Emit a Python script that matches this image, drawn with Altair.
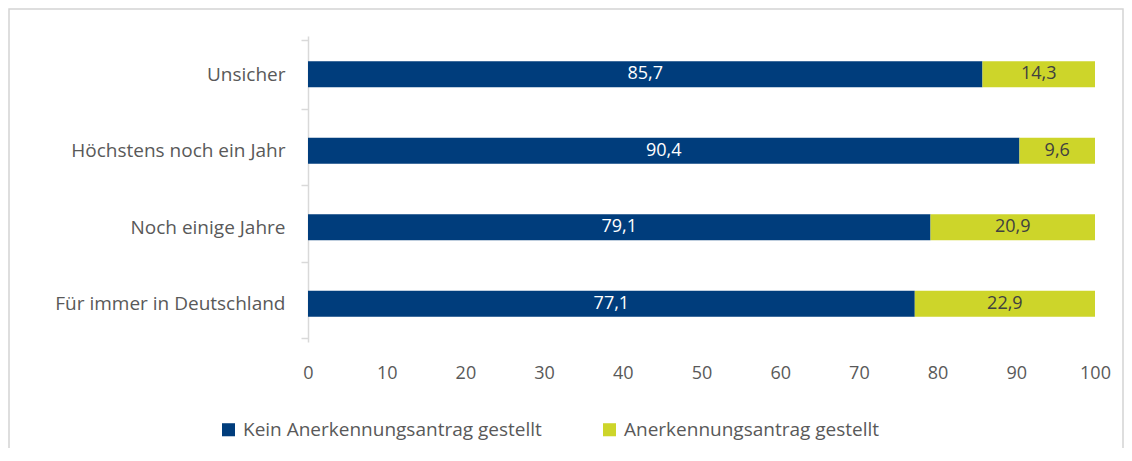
import altair as alt
import pandas as pd

categories = ["Unsicher", "Höchstens noch ein Jahr", "Noch einige Jahre", "Für immer in Deutschland"]
series = ["Kein Anerkennungsantrag gestellt", "Anerkennungsantrag gestellt"]
kein = [85.7, 90.4, 79.1, 77.1]
antrag = [14.3, 9.6, 20.9, 22.9]
x_ticks = [0, 10, 20, 30, 40, 50, 60, 70, 80, 90, 100]

colors = ["#003D7C", "#CDD52A"]
FONT = "Open Sans"

rows = []
for i, c in enumerate(categories):
    for s, vals, order in ((series[0], kein, 0), (series[1], antrag, 1)):
        v = vals[i]
        rows.append({"cat": c, "series": s, "value": v, "order": order,
                     "label": f"{v:.1f}".replace(".", ",")})
df = pd.DataFrame(rows)

W, H = 787, 306
PAD_L, PAD_T, PAD_R, PAD_B = 300, 28, 29, 106

one = pd.DataFrame({"a": [0]})
frame = alt.Chart(one).mark_rect(filled=False, stroke="#D4D4D4", strokeWidth=1.5).encode(
    x=alt.value(-PAD_L + 1), x2=alt.value(W + PAD_R - 1),
    y=alt.value(-PAD_T + 1), y2=alt.value(H + 200))

base = alt.Chart(df)

bars = base.mark_bar(size=26).encode(
    y=alt.Y("cat:N", sort=categories, title=None,
            axis=alt.Axis(tickBand="extent", domainColor="#D9D9D9", tickColor="#D9D9D9",
                          tickSize=7, labelPadding=16, labelFontSize=19, labelColor="#595959",
                          labelFont=FONT, domainWidth=1.5, tickWidth=1.5, labelLimit=400)),
    x=alt.X("value:Q", stack="zero", title=None,
            scale=alt.Scale(domain=[0, 100], nice=False),
            axis=alt.Axis(values=x_ticks, domain=False, ticks=False, grid=False,
                          labelPadding=22, labelFontSize=18, labelColor="#595959",
                          labelFont=FONT, labelFlush=False)),
    color=alt.Color("series:N", sort=series, title=None,
                    scale=alt.Scale(domain=series, range=colors),
                    legend=alt.Legend(orient="none", direction="horizontal",
                                      legendX=-89, legendY=384,
                                      symbolType="square", symbolSize=170,
                                      symbolStrokeWidth=0,
                                      labelFontSize=19, labelColor="#595959",
                                      labelFont=FONT, labelOffset=5,
                                      columnPadding=58, labelLimit=500)),
    order=alt.Order("order:Q"),
)

texts = base.mark_text(fontSize=18, font=FONT).encode(
    y=alt.Y("cat:N", sort=categories),
    x=alt.X("value:Q", stack="zero", bandPosition=0.5),
    text="label:N",
    color=alt.condition(alt.datum.order == 0, alt.value("#FFFFFF"), alt.value("#404040")),
    order=alt.Order("order:Q"),
)

chart = alt.layer(frame, bars, texts).properties(
    width=W, height=H,
    autosize=alt.AutoSizeParams(type="none"),
    padding={"left": PAD_L, "top": PAD_T, "right": PAD_R, "bottom": PAD_B},
).configure_view(strokeWidth=0)

chart.save("out.html", embed_options={"renderer": "svg", "actions": False})
